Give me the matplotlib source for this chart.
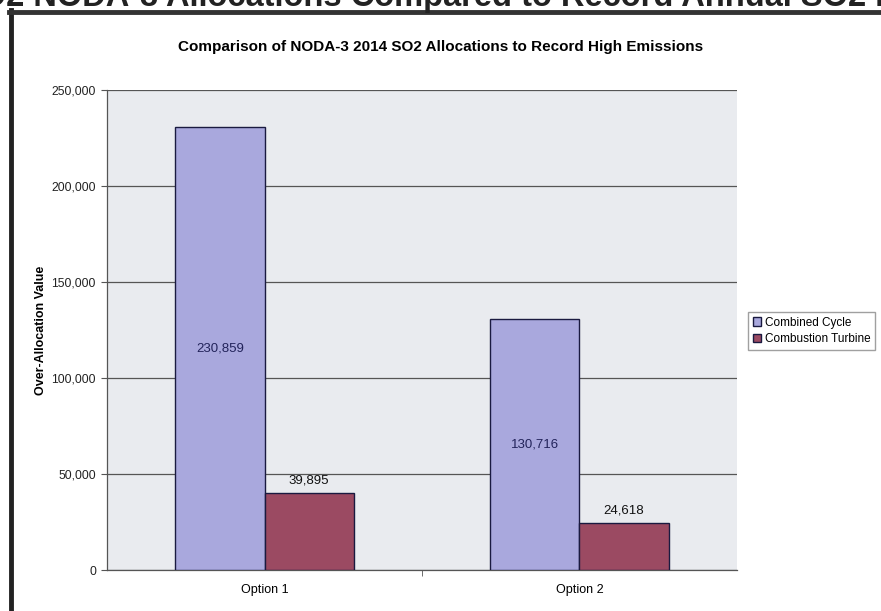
import matplotlib
matplotlib.use("Agg")
import matplotlib.pyplot as plt
import numpy as np
from matplotlib.lines import Line2D
from matplotlib.ticker import FuncFormatter, FixedLocator

plt.rcParams['font.family'] = ['Liberation Sans', 'DejaVu Sans']

categories = ["Option 1", "Option 2"]
series_names = ["Combined Cycle", "Combustion Turbine"]
combined_cycle = [230859, 130716]
combustion_turbine = [39895, 24618]
yticks = [0, 50000, 100000, 150000, 200000, 250000]

cc_color = "#a9a8dd"
ct_color = "#9b4a62"
edge = "#1a1a40"

fig = plt.figure(figsize=(8.81, 6.11), dpi=100)
fig.patch.set_facecolor("white")

ax = fig.add_axes([0.1215, 0.0671, 0.715, 0.7856])
ax.set_facecolor("#e9ebef")

x = np.arange(len(categories))
w = 0.283
b1 = ax.bar(x - w / 2, combined_cycle, w, color=cc_color, edgecolor=edge, linewidth=1.0,
            label=series_names[0], zorder=3)
b2 = ax.bar(x + w / 2, combustion_turbine, w, color=ct_color, edgecolor=edge, linewidth=1.0,
            label=series_names[1], zorder=3)

fmt = lambda v: f"{v:,.0f}"
for rect, v in zip(b1, combined_cycle):
    ax.text(rect.get_x() + rect.get_width() / 2, v / 2, fmt(v), ha="center", va="center",
            fontsize=9.5, color="#22235a", zorder=4)
for rect, v in zip(b2, combustion_turbine):
    ax.text(rect.get_x() + rect.get_width() / 2, v + 3500, fmt(v), ha="center", va="bottom",
            fontsize=9.5, color="#111111", zorder=4)

ax.set_xlim(-0.5, 1.5)
ax.set_ylim(0, 250000)
ax.set_yticks(yticks)
ax.yaxis.set_major_formatter(FuncFormatter(lambda v, p: f"{v:,.0f}"))
ax.grid(axis="y", color="#555555", linewidth=0.9, zorder=1)
ax.set_axisbelow(True)
ax.set_xticks(x)
ax.set_xticklabels(categories, fontsize=9)
ax.xaxis.set_minor_locator(FixedLocator([0.5]))
ax.tick_params(axis="x", which="major", length=0, pad=10)
ax.tick_params(axis="x", which="minor", length=4, color="#555555")
ax.tick_params(axis="y", length=4, color="#555555", labelsize=8.7, labelcolor="#222222", pad=4)
for s in ["top", "right"]:
    ax.spines[s].set_visible(False)
for s in ["left", "bottom"]:
    ax.spines[s].set_color("#555555")
    ax.spines[s].set_linewidth(0.9)

ax.set_ylabel("Over-Allocation Value", fontsize=9, fontweight="bold", labelpad=3)

fig.text(0.5, 1 - 47 / 611, "Comparison of NODA-3 2014 SO2 Allocations to Record High Emissions",
         ha="center", va="center", fontsize=11, fontweight="bold")

leg = fig.legend(handles=[b1, b2], labels=series_names, loc="center left",
                 bbox_to_anchor=(748 / 881, 1 - 331 / 611), fontsize=8.5, frameon=True,
                 fancybox=False, edgecolor="#888888", handlelength=0.7, handleheight=0.7,
                 handletextpad=0.3, borderpad=0.4, labelspacing=0.4, borderaxespad=0)

# Cropped page heading at the very top (only its lower edge shows, as in the source page)
fig.text(-41 / 881, 1 - 6 / 611, "SO2 NODA-3 Allocations Compared to Record Annual SO2 Emissions",
         ha="left", va="baseline", fontsize=23.5, fontweight="bold", color="#222222")

# Outer frame (left and top border)
fig.add_artist(Line2D([11 / 881, 11 / 881], [0, 1 - 10 / 611], color="#222222", linewidth=3.5,
                      transform=fig.transFigure))
fig.add_artist(Line2D([9 / 881, 1], [1 - 12 / 611, 1 - 12 / 611], color="#333333", linewidth=3.5,
                      transform=fig.transFigure))

fig.savefig("out.png", dpi=100)
